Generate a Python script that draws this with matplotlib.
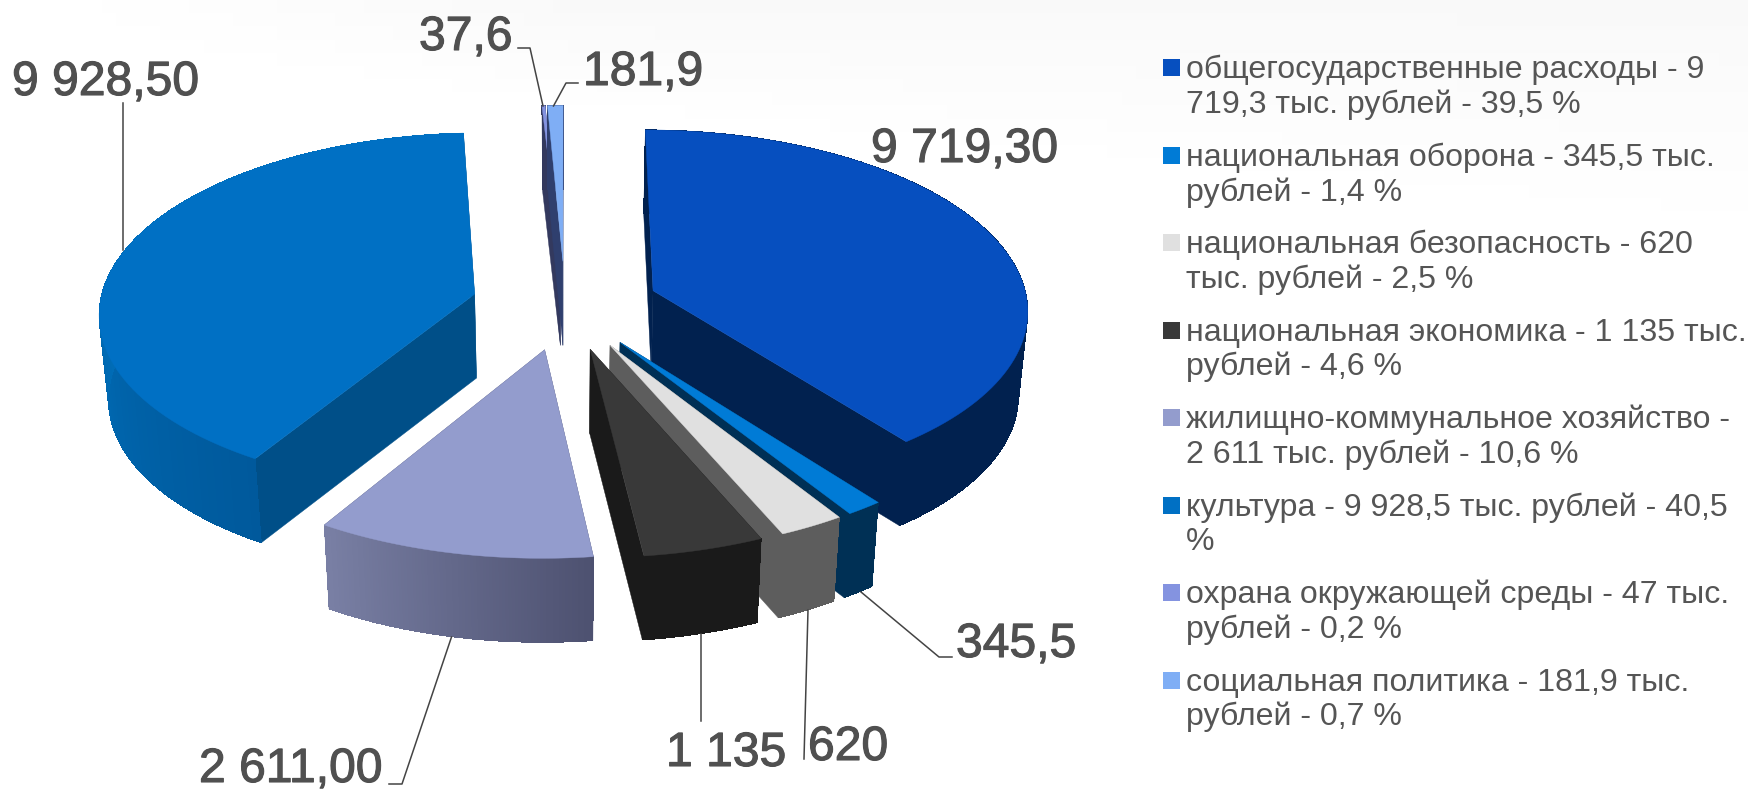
import numpy as np
import matplotlib
matplotlib.use("Agg")
import matplotlib.pyplot as plt
import matplotlib.patheffects as pe
from matplotlib.collections import PolyCollection
from matplotlib.colors import to_rgb

plt.rcParams["font.family"] = ["Liberation Sans", "DejaVu Sans"]

# данные
values = [9719.3, 345.5, 620, 1135, 2611, 9928.5, 37.6, 181.9]
value_labels = ["9 719,30", "345,5", "620", "1 135", "2 611,00", "9 928,50", "37,6", "181,9"]
legend_labels = [
    "общегосударственные расходы - 9\n719,3 тыс. рублей - 39,5 %",
    "национальная оборона - 345,5 тыс.\nрублей - 1,4 %",
    "национальная безопасность - 620\nтыс. рублей - 2,5 %",
    "национальная экономика - 1 135 тыс.\nрублей - 4,6 %",
    "жилищно-коммунальное хозяйство -\n2 611 тыс. рублей - 10,6 %",
    "культура - 9 928,5 тыс. рублей - 40,5\n%",
    "охрана окружающей среды - 47 тыс.\nрублей - 0,2 %",
    "социальная политика - 181,9 тыс.\nрублей - 0,7 %",
]

# цвета: верх, стенка, бок (начало и конец градиента)
top_colors = ["#064FBF", "#007BD6", "#E0E0E0", "#393939", "#939CCD", "#0070C4", "#8493E0", "#7FAEF5"]
wall_colors = ["#01214F", "#003055", "#5D5D5D", "#1A1A1A", "#4D5170", "#004F88", "#33395E", "#2F3F6E"]
rim_start = ["#01214F", "#003055", "#5D5D5D", "#1A1A1A", "#4D5170", "#00599C", "#33395E", "#2F3F6E"]
rim_end = ["#01214F", "#003055", "#5D5D5D", "#1A1A1A", "#7A80A5", "#0070BC", "#33395E", "#2F3F6E"]

# геометрия псевдо-3D круга в пикселях
cx, cy = 565, 305
rad_x, rad_y = 375, 179
persp = 0.097
explode = 0.25
depth = 84
bottom_scale = 0.98
draw_order = [6, 7, 5, 0, 1, 2, 3, 4]


def project(u, v, down=False):
    s = 1 / (1 + persp * v)
    f = bottom_scale if down else 1.0
    return cx + rad_x * u * s * f, cy - rad_y * v * s + (depth if down else 0)


def quad(p0, p1):
    # стенка между двумя точками плоскости круга
    return [project(*p0), project(*p1), project(*p1, True), project(*p0, True)]


fig = plt.figure(figsize=(17.48, 7.91), dpi=100)
ax = fig.add_axes([0, 0, 1, 1])
ax.set_xlim(0, 1748)
ax.set_ylim(791, 0)
ax.axis("off")

# слабый серый фон сверху справа
gx, gy = np.meshgrid(np.linspace(0, 1, 120), np.linspace(0, 1, 60))
shade = np.clip(1 - gy * 4 / (0.25 + gx), 0, 1) * np.clip(gx * 3, 0, 1)
ax.imshow(1 - 0.025 * shade, cmap="gray", vmin=0, vmax=1, extent=[0, 1748, 791, 0], aspect="auto", zorder=0)

edges = np.cumsum([0] + values) / sum(values) * 2 * np.pi
z = 1
for i in draw_order:
    a0, a1 = edges[i], edges[i + 1]
    mid = (a0 + a1) / 2
    ou, ov = explode * np.sin(mid), explode * np.cos(mid)
    ang = np.linspace(a0, a1, 90)
    ru, rv = ou + np.sin(ang), ov + np.cos(ang)

    # стенки разреза
    for a in (ru[0], rv[0]), (ru[-1], rv[-1]):
        ax.add_patch(plt.Polygon(quad((ou, ov), a), fc=wall_colors[i], ec=wall_colors[i], lw=0.3, zorder=z))
    z += 1

    # боковая поверхность: сплошная основа и градиент поверх неё
    t = np.clip((ang[:-1] - a0) / min(a1 - a0, np.radians(75)), 0, 1)
    c0, c1 = np.array(to_rgb(rim_start[i])), np.array(to_rgb(rim_end[i]))
    cols = [c0 + (c1 - c0) * x for x in t]
    outline = [project(a, b) for a, b in zip(ru, rv)] + [project(a, b, True) for a, b in zip(ru[::-1], rv[::-1])]
    ax.add_patch(plt.Polygon(outline, fc=(c0 + c1) / 2, ec="none", zorder=z))
    z += 1
    polys = [quad((ru[j], rv[j]), (ru[j + 1], rv[j + 1])) for j in range(len(ang) - 1)]
    ax.add_collection(PolyCollection(polys, facecolors=cols, edgecolors="none", linewidths=0,
                                     antialiaseds=False, zorder=z))
    z += 1

    # верхняя грань
    top = [project(ou, ov)] + [project(a, b) for a, b in zip(ru, rv)]
    ax.add_patch(plt.Polygon(top, fc=top_colors[i], ec=top_colors[i], lw=0.3, zorder=z))
    z += 1

# выноски
leaders = [
    None,
    ([861, 939, 952], [592, 657, 657]),
    ([808, 804], [610, 759]),
    ([701, 701], [634, 721]),
    ([451.5, 402, 389], [637, 784, 784]),
    ([123, 123], [250, 103]),
    ([543, 530, 518], [106, 48, 48]),
    ([553.5, 566, 578], [106, 83, 83]),
]
for line in leaders:
    if line:
        ax.plot(line[0], line[1], color="#444444", lw=1.1, zorder=z)

label_x = [871, 956, 808, 666, 199, 12, 419, 583]
label_y = [162, 657, 760, 766, 782, 95, 50, 85]
for lab, x, y in zip(value_labels, label_x, label_y):
    ax.text(x, y, lab, fontsize=34.6, color="#505050", ha="left", va="baseline", zorder=z + 1,
            path_effects=[pe.withStroke(linewidth=0.8, foreground="#505050")])

# легенда
for i, lab in enumerate(legend_labels):
    yc = 67.5 + 87.5 * i
    ax.add_patch(plt.Rectangle((1163, yc - 8.5), 17, 17, fc=top_colors[i], ec="none", zorder=z))
    ax.text(1186, yc + 20, lab, fontsize=23.1, color="#555555", ha="left", va="center", linespacing=1.18, zorder=z + 1)

fig.savefig("out.png", dpi=100)
